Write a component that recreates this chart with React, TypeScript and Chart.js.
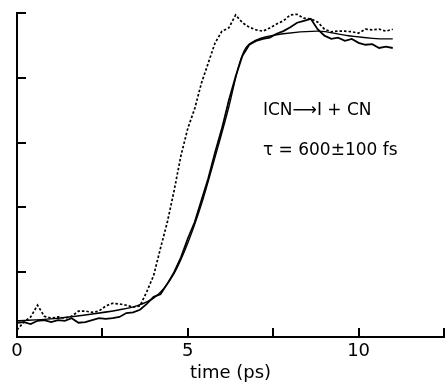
import React, { useEffect, useRef } from 'react';
import { Chart, registerables } from 'chart.js';

Chart.register(...registerables);

// time axis (ps)
const time = [0, 0.2, 0.4, 0.6, 0.8, 1, 1.2, 1.4, 1.6, 1.8, 2, 2.2, 2.4, 2.6, 2.8, 3, 3.2, 3.4, 3.6, 3.8,
  4, 4.2, 4.4, 4.6, 4.8, 5, 5.2, 5.4, 5.6, 5.8, 6, 6.2, 6.4, 6.6, 6.8, 7, 7.2, 7.4, 7.6, 7.8,
  8, 8.2, 8.4, 8.6, 8.8, 9, 9.2, 9.4, 9.6, 9.8, 10, 10.2, 10.4, 10.6, 10.8, 11];

// faster-rising trace (dotted)
const fastSignal = [0.11, 0.23, 0.31, 0.49, 0.32, 0.29, 0.31, 0.29, 0.32, 0.40,
  0.40, 0.38, 0.40, 0.48, 0.52, 0.51, 0.49, 0.46, 0.48, 0.70,
  0.95, 1.37, 1.77, 2.26, 2.80, 3.22, 3.52, 3.92, 4.23, 4.54,
  4.72, 4.77, 4.97, 4.85, 4.78, 4.74, 4.72, 4.77, 4.83, 4.88,
  4.97, 4.98, 4.92, 4.91, 4.86, 4.75, 4.71, 4.72, 4.72, 4.71,
  4.69, 4.75, 4.74, 4.75, 4.72, 4.75];

// ICN trace (solid, noisy)
const slowSignal = [0.22, 0.23, 0.20, 0.25, 0.26, 0.23, 0.26, 0.25, 0.29, 0.22,
  0.23, 0.26, 0.29, 0.28, 0.29, 0.31, 0.37, 0.38, 0.42, 0.51,
  0.62, 0.66, 0.82, 1.00, 1.23, 1.52, 1.77, 2.11, 2.45, 2.85,
  3.22, 3.65, 4.02, 4.34, 4.51, 4.57, 4.60, 4.62, 4.68, 4.72,
  4.78, 4.85, 4.88, 4.91, 4.75, 4.65, 4.60, 4.62, 4.57, 4.60,
  4.54, 4.51, 4.52, 4.46, 4.48, 4.46];

// smooth fit
const fitTime = [0, 1, 2, 3, 3.5, 4, 4.3, 4.6, 5, 5.4, 5.8, 6.2, 6.5, 6.7, 7, 7.8, 8.8, 9.7, 10.8, 11];
const fitValues = [0.25, 0.28, 0.34, 0.42, 0.48, 0.6, 0.75, 0.98, 1.45, 2.05, 2.78, 3.55, 4.2, 4.46, 4.58, 4.68, 4.72, 4.65, 4.6, 4.6];

const xTickValues = [0, 2.5, 5, 7.5, 10, 12.5];
const xLabelValues = [0, 5, 10];
const yTickValues = [0, 1, 2, 3, 4, 5];
const annotationLines = ['ICN\u27F6I + CN', '\u03C4 = 600\u00B1100 fs'];

const FONT = '"DejaVu Sans", sans-serif';

const pairs = (xs: number[], ys: number[]) => xs.map((x, i) => ({ x, y: ys[i] }));

const ticksPlugin = {
  id: 'inwardTicks',
  afterDraw(chart: any) {
    const { ctx, chartArea, scales } = chart;
    const xs = scales.x;
    const ys = scales.y;
    ctx.save();
    ctx.strokeStyle = '#000';
    ctx.lineWidth = 2;
    ctx.beginPath();
    yTickValues.forEach((v) => {
      const py = Math.round(ys.getPixelForValue(v));
      ctx.moveTo(chartArea.left, py);
      ctx.lineTo(chartArea.left + 9, py);
    });
    xTickValues.forEach((v) => {
      if (v === 0) return;
      const px = Math.round(xs.getPixelForValue(v));
      ctx.moveTo(px, chartArea.bottom);
      ctx.lineTo(px, chartArea.bottom - 9);
    });
    ctx.stroke();

    ctx.fillStyle = '#000';
    ctx.font = `17px ${FONT}`;
    ctx.textBaseline = 'middle';
    ctx.textAlign = 'left';
    const tx = xs.getPixelForValue(7.2);
    ctx.fillText(annotationLines[0], tx, ys.getPixelForValue(3.49));
    ctx.fillText(annotationLines[1], tx, ys.getPixelForValue(2.88));
    ctx.restore();
  },
};

export default function App() {
  const canvasRef = useRef<HTMLCanvasElement | null>(null);

  useEffect(() => {
    if (!canvasRef.current) return;
    const chart = new Chart(canvasRef.current, {
      type: 'line',
      data: {
        datasets: [
          {
            data: pairs(time, fastSignal),
            borderColor: '#000',
            borderWidth: 1.7,
            borderDash: [2.5, 2],
            pointRadius: 0,
            tension: 0,
          },
          {
            data: pairs(time, slowSignal),
            borderColor: '#000',
            borderWidth: 1.8,
            pointRadius: 0,
            tension: 0,
          },
          {
            data: pairs(fitTime, fitValues),
            borderColor: '#000',
            borderWidth: 1.4,
            pointRadius: 0,
            cubicInterpolationMode: 'monotone',
          },
        ],
      },
      options: {
        responsive: false,
        animation: false,
        events: [],
        layout: { padding: { top: 13, right: 1, left: 0, bottom: 0 } },
        plugins: {
          legend: { display: false },
          tooltip: { enabled: false },
        },
        scales: {
          x: {
            type: 'linear',
            min: 0,
            max: 12.5,
            afterBuildTicks: (scale: any) => {
              scale.ticks = xTickValues.map((v) => ({ value: v }));
            },
            afterFit: (scale: any) => {
              scale.height = 48;
            },
            grid: { display: false, drawTicks: false },
            border: { display: true, color: '#000', width: 2 },
            ticks: {
              autoSkip: false,
              maxRotation: 0,
              padding: 4,
              color: '#000',
              font: { size: 18, family: FONT },
              callback: (v: any) => (xLabelValues.includes(Number(v)) ? String(v) : ''),
            },
            title: {
              display: true,
              text: 'time (ps)',
              color: '#000',
              font: { size: 18, family: FONT },
              padding: { top: 0, bottom: 1 },
            },
          },
          y: {
            type: 'linear',
            min: 0,
            max: 5,
            afterFit: (scale: any) => {
              scale.width = 17;
            },
            grid: { display: false, drawTicks: false },
            border: { display: true, color: '#000', width: 2 },
            ticks: { display: false },
          },
        },
      },
      plugins: [ticksPlugin],
    });
    return () => chart.destroy();
  }, []);

  return (
    <div style={{ position: 'fixed', left: 0, top: 0, width: 448, height: 385, background: '#fff' }}>
      <canvas ref={canvasRef} width={448} height={385} />
    </div>
  );
}
